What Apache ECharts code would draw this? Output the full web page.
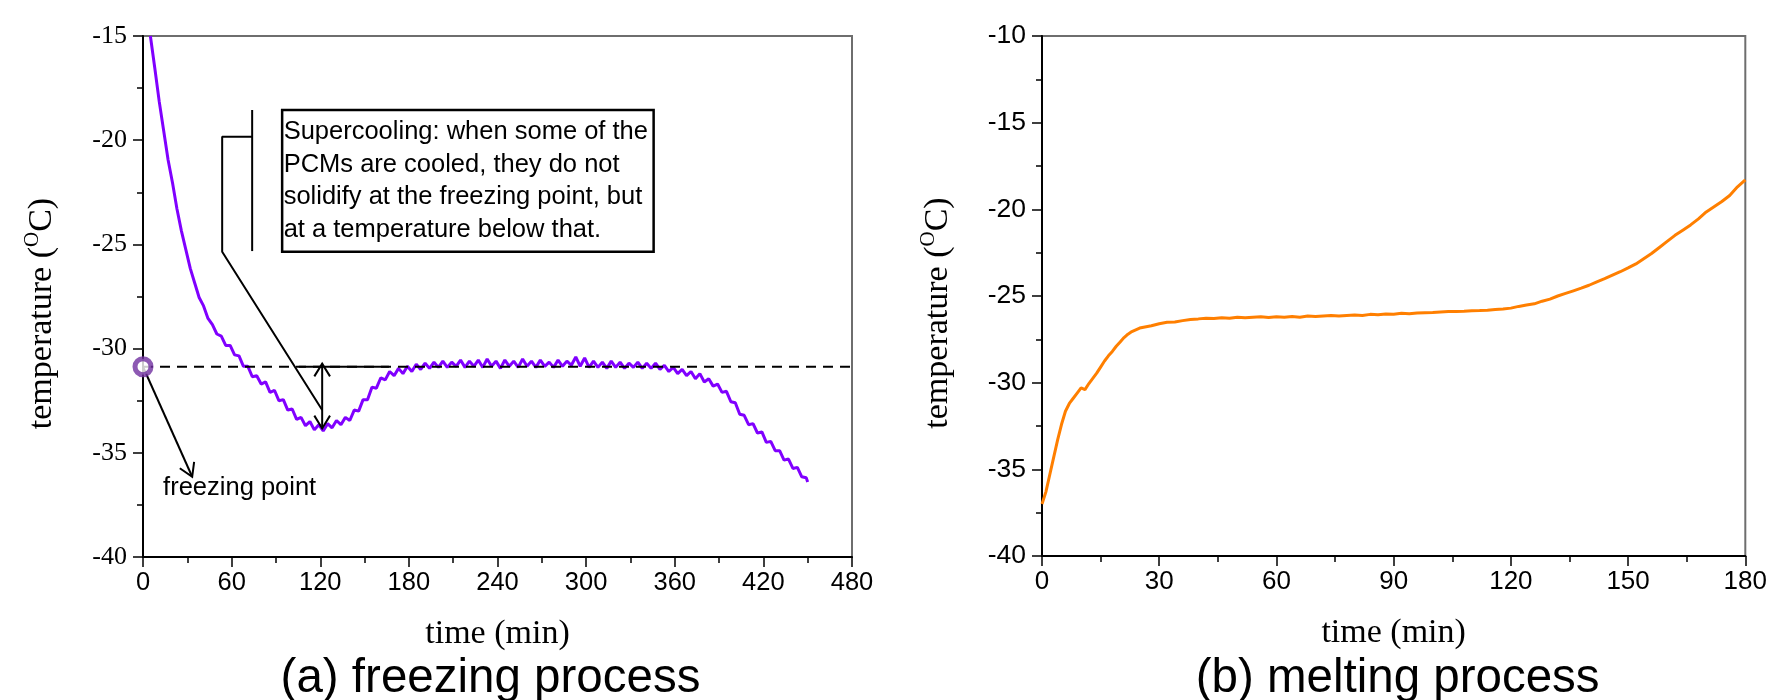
<!DOCTYPE html>
<html><head><meta charset="utf-8">
<script src="https://cdn.jsdelivr.net/npm/echarts@6/dist/echarts.min.js"></script>
<style>html,body{margin:0;padding:0;background:#fff}#c{width:1770px;height:700px}</style>
</head><body><div id="c"></div>
<script>
// ---- data: (a) freezing process  [time (min), temperature (°C)]
const freezeData = [
[5,-15.0],[8,-16.55],[11,-18.15],[14,-19.55],[17,-20.95],[20,-22.05],[23,-23.3],[26,-24.35],[29,-25.25],[32,-26.15],
[35,-26.85],[38,-27.55],[41,-27.95],[44,-28.55],[47,-28.85],[50,-29.3],[53,-29.4],[56,-29.85],[59,-29.85],[62,-30.3],
[65,-30.35],[68,-30.85],[71,-30.85],[74,-31.35],[77,-31.3],[80,-31.7],[83,-31.6],[86,-32.1],[89,-32.0],[92,-32.5],
[95,-32.45],[98,-32.95],[101,-32.9],[104,-33.4],[107,-33.3],[110,-33.7],[113,-33.5],[116,-33.9],[119,-33.65],[122,-33.95],
[125,-33.6],[128,-33.8],[131,-33.45],[134,-33.65],[137,-33.3],[140,-33.45],[143,-32.95],[146,-33.0],[149,-32.45],[152,-32.45],
[155,-31.85],[158,-31.9],[161,-31.4],[164,-31.5],[167,-31.1],[170,-31.3],[173,-30.95],[176,-31.2],[179,-30.85],[182,-31.1],
[185,-30.75],[188,-31.0],[191,-30.7],[194,-30.95],[197,-30.65],[200,-30.9],[203,-30.6],[206,-30.9],[209,-30.65],[212,-30.85],
[215,-30.55],[218,-30.9],[221,-30.6],[224,-30.85],[227,-30.55],[230,-30.9],[233,-30.5],[236,-30.85],[239,-30.6],[242,-30.95],
[245,-30.55],[248,-30.85],[251,-30.6],[254,-30.9],[257,-30.5],[260,-30.85],[263,-30.6],[266,-30.9],[269,-30.55],[272,-30.85],
[275,-30.65],[278,-30.9],[281,-30.55],[284,-30.85],[287,-30.6],[290,-30.8],[293,-30.4],[296,-30.85],[299,-30.45],[302,-30.9],
[305,-30.6],[308,-30.9],[311,-30.65],[314,-30.95],[317,-30.6],[320,-30.9],[323,-30.65],[326,-30.95],[329,-30.7],[332,-30.9],
[335,-30.65],[338,-30.95],[341,-30.7],[344,-30.95],[347,-30.7],[350,-31.0],[353,-30.8],[356,-31.1],[359,-30.9],[362,-31.2],
[365,-31.0],[368,-31.3],[371,-31.1],[374,-31.45],[377,-31.2],[380,-31.6],[383,-31.45],[386,-31.8],[389,-31.7],[392,-32.1],
[395,-32.05],[398,-32.55],[401,-32.6],[404,-33.15],[407,-33.2],[410,-33.65],[413,-33.6],[416,-34.05],[419,-34.0],[422,-34.5],
[425,-34.45],[428,-34.9],[431,-34.9],[434,-35.35],[437,-35.3],[440,-35.75],[443,-35.7],[446,-36.15],[449,-36.2],[450,-36.4]
];
// ---- data: (b) melting process  [time (min), temperature (°C)]
const meltData = [
[0,-37.0],[1,-36.3],[2,-35.3],[3,-34.3],[4,-33.3],[5,-32.4],[6,-31.65],[7,-31.2],[8,-30.9],[9,-30.6],
[10,-30.3],[11,-30.4],[12,-30.05],[13,-29.75],[14,-29.45],[15,-29.1],[16,-28.75],[17,-28.45],[18,-28.2],[19,-27.9],
[20,-27.65],[21,-27.4],[22,-27.2],[23,-27.05],[24,-26.95],[25,-26.85],[26,-26.8],[28,-26.72],[30,-26.6],[32,-26.52],
[34,-26.5],[36,-26.42],[38,-26.35],[40,-26.32],[42,-26.28],[44,-26.3],[46,-26.25],[48,-26.28],[50,-26.22],[52,-26.25],
[54,-26.22],[56,-26.2],[58,-26.24],[60,-26.2],[62,-26.22],[64,-26.18],[66,-26.22],[68,-26.16],[70,-26.18],[72,-26.15],
[74,-26.12],[76,-26.16],[78,-26.12],[80,-26.1],[82,-26.12],[84,-26.06],[86,-26.08],[88,-26.04],[90,-26.05],[92,-26.0],
[94,-26.02],[96,-25.98],[98,-25.96],[100,-25.95],[102,-25.92],[104,-25.9],[106,-25.9],[108,-25.88],[110,-25.85],[112,-25.84],
[114,-25.82],[116,-25.78],[118,-25.75],[120,-25.7],[122,-25.6],[124,-25.52],[126,-25.45],[128,-25.3],[130,-25.18],[132,-25.0],
[134,-24.85],[136,-24.7],[138,-24.55],[140,-24.38],[142,-24.18],[144,-24.0],[146,-23.8],[148,-23.6],[150,-23.38],[152,-23.15],
[154,-22.85],[156,-22.55],[158,-22.2],[160,-21.85],[162,-21.5],[164,-21.2],[166,-20.9],[168,-20.55],[170,-20.15],[172,-19.85],
[174,-19.55],[176,-19.2],[178,-18.7],[180,-18.3]
];
// axis ranges [min, max, interval]
const freezeXAxis = [0, 480, 60];
const freezeYAxis = [-40, -15, 5];
const meltXAxis = [0, 180, 30];
const meltYAxis = [-40, -10, 5];
// annotations (a), in data coordinates
const freezingPoint = -30.87;
const plateauRef = [[105.5, -30.87], [166.5, -30.87]];
const supercoolArrow = [[121.3, -30.72], [121.3, -33.83]];
const bracketBar = [[73.9, -18.55], [73.9, -25.32]];
const bracketPath = [[73.9, -19.83], [53.6, -19.83], [53.6, -25.35], [121.3, -32.95]];
const freezeArrow = [[0, -30.87], [33.3, -36.15]];
const supercoolBox = [[94.2, -18.55], [345.7, -25.35]];
const supercoolText = ['Supercooling: when some of the', 'PCMs are cooled, they do not', 'solidify at the freezing point, but', 'at a temperature below that.'];
const freezeLabel = 'freezing point';
const freezeLabelPos = [13.6, -36.7];
const panelTitles = ['(a) freezing process', '(b) melting process'];

const SANS = '"Liberation Sans", Arial, sans-serif';
const SERIF = '"Liberation Serif", "Times New Roman", serif';

function xAxisCfg(r, gi, fontSize) {
  return {
    type: 'value', gridIndex: gi, min: r[0], max: r[1], interval: r[2],
    name: 'time (min)', nameLocation: 'middle', nameGap: 60,
    nameTextStyle: {color: '#000', fontFamily: SERIF, fontSize: 34},
    axisLine: {show: true, onZero: false, lineStyle: {color: '#000', width: 2}},
    axisTick: {show: true, length: 10, lineStyle: {color: '#000', width: 1.5}},
    minorTick: {show: true, splitNumber: 2, length: 6, lineStyle: {color: '#000', width: 1.5}},
    axisLabel: {color: '#000', fontFamily: SANS, fontSize: fontSize, margin: 13},
    splitLine: {show: false}
  };
}
function yAxisCfg(r, gi, fam, fontSize, gap) {
  return {
    type: 'value', gridIndex: gi, min: r[0], max: r[1], interval: r[2],
    name: '{t|temperature (}{s|O}{t|C)}', nameLocation: 'middle', nameGap: gap,
    nameTextStyle: {color: '#000', fontFamily: SERIF, fontSize: 34, padding: [0, 34, 0, 0],
      rich: {t: {fontFamily: SERIF, fontSize: 34, lineHeight: 40, color: '#000'},
             s: {fontFamily: SERIF, fontSize: 21, lineHeight: 21, verticalAlign: 'top', color: '#000'}}},
    axisLine: {show: true, onZero: false, lineStyle: {color: '#000', width: 2}},
    axisTick: {show: true, length: 10, lineStyle: {color: '#000', width: 1.5}},
    minorTick: {show: true, splitNumber: 2, length: 6, lineStyle: {color: '#000', width: 1.5}},
    axisLabel: {color: '#000', fontFamily: fam, fontSize: fontSize, margin: 16},
    splitLine: {show: false}
  };
}
function annoLine(data, extra) {
  return Object.assign({type: 'line', xAxisIndex: 0, yAxisIndex: 0, data: data, symbol: 'none', silent: true,
    clip: false, z: 6, animation: false, lineStyle: {color: '#000', width: 2}}, extra || {});
}

const option = {
  backgroundColor: '#fff',
  animation: false,
  grid: [
    {left: 143, top: 36, width: 709, height: 521, show: true, borderColor: '#6e6e6e', borderWidth: 2, backgroundColor: 'transparent'},
    {left: 1042, top: 36, width: 707, height: 520, show: true, borderColor: '#6e6e6e', borderWidth: 2, backgroundColor: 'transparent'}
  ],
  xAxis: [xAxisCfg(freezeXAxis, 0, 25.5), xAxisCfg(meltXAxis, 1, 26)],
  yAxis: [yAxisCfg(freezeYAxis, 0, SERIF, 26, 81), yAxisCfg(meltYAxis, 1, SANS, 26.5, 84)],
  series: [
    {type: 'line', xAxisIndex: 0, yAxisIndex: 0, data: freezeData, symbol: 'none', clip: true, z: 3,
      lineStyle: {color: '#8000ff', width: 3}},
    annoLine([[freezeXAxis[0], freezingPoint], [freezeXAxis[1], freezingPoint]], {lineStyle: {color: '#000', width: 2, type: [10, 7]}, z: 5}),
    annoLine(plateauRef),
    annoLine(supercoolArrow),
    annoLine(bracketBar),
    annoLine(bracketPath),
    annoLine(freezeArrow),
    {type: 'scatter', xAxisIndex: 0, yAxisIndex: 0, data: [[0, freezingPoint]], symbol: 'circle', symbolSize: 16,
      clip: false, z: 8, silent: true,
      itemStyle: {color: '#fff', borderColor: '#7030a0', borderWidth: 5}},
    {type: 'line', xAxisIndex: 1, yAxisIndex: 1, data: meltData, symbol: 'none', clip: true, z: 3,
      lineStyle: {color: '#ff7f00', width: 3}}
  ]
};

const chart = echarts.init(document.getElementById('c'));
chart.setOption(option);

const P = p => chart.convertToPixel({gridIndex: 0}, p);
function head(tipD, fromD) {
  const tip = P(tipD), from = P(fromD);
  const dx = from[0] - tip[0], dy = from[1] - tip[1];
  const d = Math.hypot(dx, dy), ux = dx / d, uy = dy / d;
  const L = 15, a = 0.55, c = Math.cos(a), s = Math.sin(a);
  const w1 = [tip[0] + L * (ux * c - uy * s), tip[1] + L * (ux * s + uy * c)];
  const w2 = [tip[0] + L * (ux * c + uy * s), tip[1] + L * (-ux * s + uy * c)];
  return {type: 'polyline', shape: {points: [w1, tip, w2]}, style: {stroke: '#000', lineWidth: 2, fill: null}, z: 100};
}
const tl = P(supercoolBox[0]), br = P(supercoolBox[1]);
const lbl = P(freezeLabelPos);
const ga = chart.convertToPixel({gridIndex: 0}, [(freezeXAxis[0] + freezeXAxis[1]) / 2, freezeYAxis[0]]);
const gb = chart.convertToPixel({gridIndex: 1}, [(meltXAxis[0] + meltXAxis[1]) / 2, meltYAxis[0]]);

chart.setOption({
  graphic: [
    {type: 'rect', shape: {x: tl[0], y: tl[1], width: br[0] - tl[0], height: br[1] - tl[1]},
      style: {fill: '#fff', stroke: '#000', lineWidth: 2.5}, z: 90},
    {type: 'text', x: tl[0] + 1.5, y: tl[1] + 5.7, z: 95,
      style: {text: supercoolText.join('\n'), fill: '#000', fontSize: 25.5, fontFamily: SANS, lineHeight: 32.7, align: 'left', verticalAlign: 'top'}},
    head(supercoolArrow[0], supercoolArrow[1]),
    head(supercoolArrow[1], supercoolArrow[0]),
    head(freezeArrow[1], freezeArrow[0]),
    {type: 'text', x: lbl[0], y: lbl[1], z: 95,
      style: {text: freezeLabel, fill: '#000', fontSize: 25.5, fontFamily: SANS, align: 'left', verticalAlign: 'middle'}},
    {type: 'text', x: ga[0] - 7, y: 679, z: 95,
      style: {text: panelTitles[0], fill: '#000', fontSize: 47.5, fontFamily: SANS, align: 'center', verticalAlign: 'middle'}},
    {type: 'text', x: gb[0] + 4, y: 679, z: 95,
      style: {text: panelTitles[1], fill: '#000', fontSize: 47.5, fontFamily: SANS, align: 'center', verticalAlign: 'middle'}}
  ]
});
</script>
</body></html>
